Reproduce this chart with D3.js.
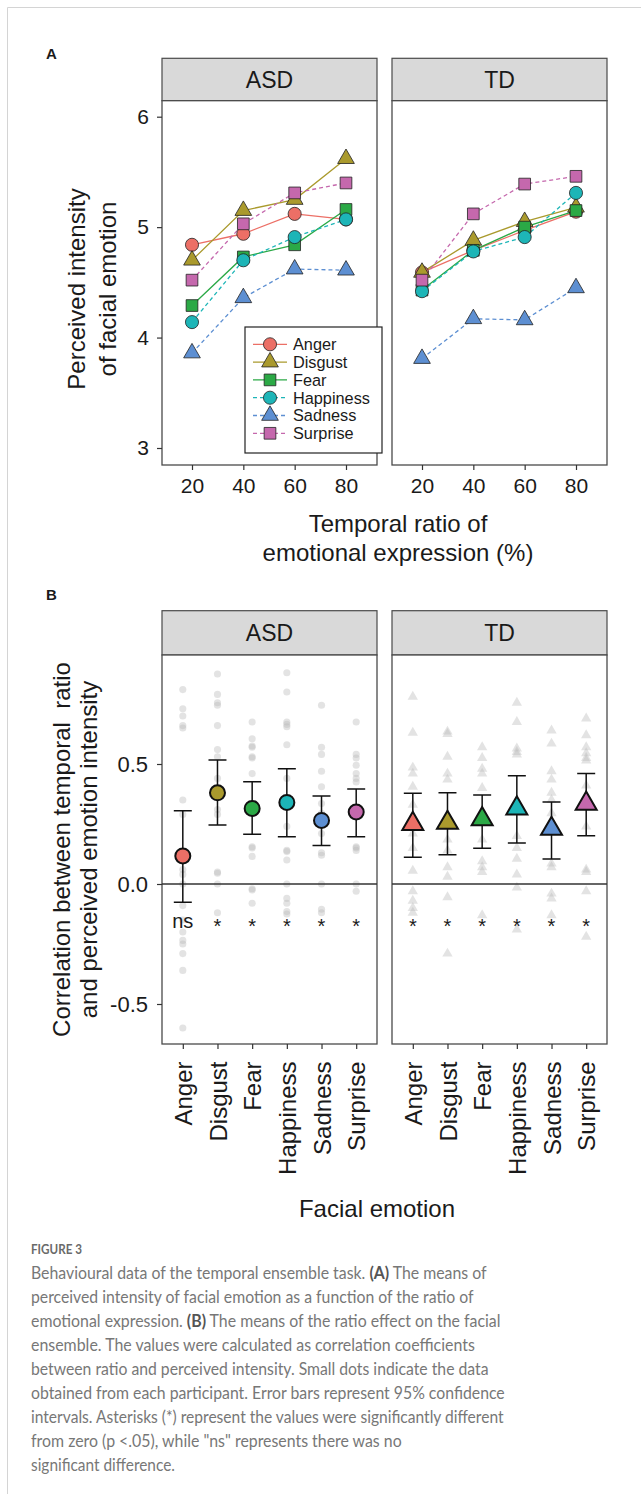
<!DOCTYPE html>
<html>
<head>
<meta charset="utf-8">
<script src="https://cdn.jsdelivr.net/npm/d3@7"></script>
<style>
body{margin:0;background:#fff;}
svg text{font-family:"Liberation Sans",Arial,sans-serif;fill:#1a1a1a;}
</style>
</head>
<body>
<script>
//declare data
var groups = ["ASD","TD"];
var emotions = ["Anger","Disgust","Fear","Happiness","Sadness","Surprise"];
var ratios = [20,40,60,80];
var ticksA = [3,4,5,6];
var ticksB = [-0.5,0,0.5];

//panel A: mean perceived intensity, one row per emotion
var intensityASD = [
  [4.84,4.94,5.12,5.07],
  [4.70,5.15,5.25,5.62],
  [4.29,4.73,4.84,5.16],
  [4.14,4.70,4.91,5.07],
  [3.86,4.36,4.62,4.61],
  [4.52,5.03,5.31,5.40]
];
var intensityTD = [
  [4.59,4.79,4.97,5.14],
  [4.59,4.88,5.05,5.18],
  [4.43,4.79,5.00,5.15],
  [4.42,4.78,4.91,5.31],
  [3.81,4.17,4.16,4.45],
  [4.52,5.12,5.39,5.46]
];

//panel B: correlation means and 95% CI
var corrASD = [0.117,0.38,0.315,0.34,0.265,0.30];
var lowASD  = [-0.076,0.246,0.207,0.197,0.16,0.197];
var highASD = [0.305,0.517,0.426,0.48,0.367,0.396];
var corrTD  = [0.25,0.255,0.27,0.315,0.23,0.335];
var lowTD   = [0.111,0.122,0.149,0.171,0.104,0.201];
var highTD  = [0.378,0.38,0.371,0.451,0.342,0.46];
var sigASD = ["ns","*","*","*","*","*"];
var sigTD  = ["*","*","*","*","*","*"];

//participant correlations
var dotsASD = [
  [0.81,0.73,0.70,0.66,0.65,0.35,0.29,0.06,0.04,0.0,-0.09,-0.15,-0.2,-0.235,-0.25,-0.29,-0.36,-0.6],
  [0.875,0.79,0.755,0.745,0.66,0.56,0.53,0.44,0.31,0.29,0.05,0.045,0.0,-0.12],
  [0.675,0.605,0.575,0.57,0.53,0.525,0.46,0.155,0.15,0.115,-0.02,-0.025,-0.08],
  [0.88,0.80,0.675,0.665,0.655,0.58,0.44,0.24,0.14,0.135,0.1,0.0,-0.06,-0.08,-0.115,-0.125],
  [0.745,0.57,0.54,0.47,0.405,0.335,0.295,0.21,0.13,0.12,0.0,-0.105,-0.12],
  [0.675,0.54,0.525,0.495,0.46,0.44,0.425,0.155,0.15,0.14,0.0,-0.03]
];
var dotsTD = [
  [0.78,0.63,0.485,0.46,0.405,0.33,0.21,0.15,0.055,-0.03,-0.07,-0.1,-0.12],
  [0.635,0.625,0.53,0.46,0.435,0.185,0.14,0.07,0.03,-0.055,-0.29],
  [0.57,0.525,0.48,0.46,0.40,0.185,0.095,0.07,0.05,-0.13],
  [0.755,0.675,0.565,0.55,0.54,0.2,0.15,0.105,0.04,-0.015,-0.19],
  [0.64,0.585,0.47,0.435,0.38,0.35,0.295,0.085,0.07,-0.04,-0.06,-0.13],
  [0.69,0.62,0.57,0.545,0.525,0.515,0.41,0.24,0.06,0.05,-0.03,-0.22]
];

var captionLines = [
  ["Behavioural data of the temporal ensemble task. ","(A)"," The means of"],
  ["perceived intensity of facial emotion as a function of the ratio of"],
  ["emotional expression. ","(B)"," The means of the ratio effect on the facial"],
  ["ensemble. The values were calculated as correlation coefficients"],
  ["between ratio and perceived intensity. Small dots indicate the data"],
  ["obtained from each participant. Error bars represent 95% confidence"],
  ["intervals. Asterisks (*) represent the values were significantly different"],
  ["from zero (p <.05), while \"ns\" represents there was no"],
  ["significant difference."]
];
var captionWidths = [456,443,470,444,458,474,473,371,144];

//styles
var colors = ["#ec6f66","#aa9a2d","#2ba946","#1db5b7","#5d8fd2","#c568ad"];
var shapes = [d3.symbolCircle,d3.symbolTriangle,d3.symbolSquare,d3.symbolCircle,d3.symbolTriangle,d3.symbolSquare];
var shapeSize = [135,121,137,135,121,137];
var dashed = [false,false,false,true,true,true];

var panelLeft = [162,392];
var panelW = 215;

//create svg
var svg = d3.select("body").append("svg")
            .attr("width",641)
            .attr("height",1494);

//figure border (top + left)
svg.append("path").attr("d","M7.5,1494V7.5H641")
   .attr("fill","none").attr("stroke","#d4d4d4");

//panel frame with strip
function frame(left, stripTop, top, bottom, name){
    svg.append("rect").attr("x",left).attr("y",stripTop)
       .attr("width",panelW).attr("height",top-stripTop)
       .attr("fill","#d9d9d9").attr("stroke","#4a4a4a").attr("stroke-width",1.2);
    svg.append("rect").attr("x",left).attr("y",top)
       .attr("width",panelW).attr("height",bottom-top)
       .attr("fill","#fff").attr("stroke","#4a4a4a").attr("stroke-width",1.3);
    svg.append("text").attr("x",left+panelW/2).attr("y",(stripTop+top)/2)
       .attr("dy","0.36em").attr("text-anchor","middle")
       .attr("font-size","23px").text(name);
}

function styleAxis(g, size){
    g.select(".domain").remove();
    g.selectAll(".tick line").attr("stroke","#333").attr("stroke-width",1.2);
    g.selectAll(".tick text").attr("font-size",size).attr("fill","#1a1a1a")
     .attr("font-family","Liberation Sans, Arial, sans-serif");
}

// ================= Panel A =================
var topA = 100.7, bottomA = 465;
var yA = d3.scaleLinear().domain([3,6]).range([448,116.7]);

svg.append("text").attr("x",46).attr("y",58.5)
   .attr("font-size","15px").attr("font-weight","bold").text("A");

for (var p=0; p<2; p++){
    var left = panelLeft[p];
    var data = p==0 ? intensityASD : intensityTD;
    frame(left, 58.3, topA, bottomA, groups[p]);

    var xA = d3.scaleLinear().domain([20,80]).range([left+30,left+184]);

    var line = d3.line()
                 .x(function(d,i){ return xA(ratios[i]); })
                 .y(function(d){ return yA(d); });

    //lines first
    data.forEach(function(row,e){
        svg.append("path")
           .attr("fill","none")
           .attr("stroke",colors[e])
           .attr("stroke-width",1.3)
           .attr("stroke-dasharray",dashed[e] ? "4,3" : null)
           .attr("d",line(row));
    });
    //then points
    data.forEach(function(row,e){
        svg.selectAll("path.pt"+p+"_"+e)
           .data(row)
           .enter().append("path")
             .attr("class","pt"+p+"_"+e)
             .attr("transform",function(d,i){ return "translate("+xA(ratios[i])+","+yA(d)+")"; })
             .attr("d",d3.symbol().type(shapes[e]).size(shapeSize[e]))
             .attr("fill",colors[e])
             .attr("stroke","#222")
             .attr("stroke-width",0.8);
    });

    var gx = svg.append("g").attr("transform","translate(0,"+bottomA+")")
                .call(d3.axisBottom(xA).tickValues(ratios).tickSize(5).tickPadding(8));
    styleAxis(gx,"21px");

    if (p==0){
        var gy = svg.append("g").attr("transform","translate("+left+",0)")
                    .call(d3.axisLeft(yA).tickValues(ticksA).tickSize(5).tickPadding(8).tickFormat(d3.format("d")));
        styleAxis(gy,"21px");
    }
}

//legend inside ASD panel
var legend = svg.append("g");
legend.append("rect").attr("x",245).attr("y",327).attr("width",137).attr("height",126)
      .attr("fill","#fff").attr("stroke","#222").attr("stroke-width",1.2);
emotions.forEach(function(name,e){
    var ly = 344.3 + e*17.8;
    legend.append("line").attr("x1",253).attr("x2",287).attr("y1",ly).attr("y2",ly)
          .attr("stroke",colors[e]).attr("stroke-width",1.3)
          .attr("stroke-dasharray",dashed[e] ? "4,3" : null);
    legend.append("path").attr("transform","translate(270,"+ly+")")
          .attr("d",d3.symbol().type(shapes[e]).size(shapeSize[e]))
          .attr("fill",colors[e]).attr("stroke","#222").attr("stroke-width",0.8);
    legend.append("text").attr("x",293).attr("y",ly).attr("dy","0.36em")
          .attr("font-size","16.3px").text(name);
});

//axis titles A
var ytA = svg.append("text").attr("transform","translate(0,289) rotate(-90)")
             .attr("text-anchor","middle").attr("font-size","24px");
ytA.append("tspan").attr("x",0).attr("y",77).attr("dy","0.35em").text("Perceived intensity");
ytA.append("tspan").attr("x",0).attr("y",108).attr("dy","0.35em").text("of facial emotion");

var xtA = svg.append("text").attr("text-anchor","middle").attr("font-size","24px");
xtA.append("tspan").attr("x",398).attr("y",524).attr("dy","0.35em").text("Temporal ratio of");
xtA.append("tspan").attr("x",398).attr("y",553).attr("dy","0.35em").text("emotional expression (%)");

// ================= Panel B =================
var topB = 655, bottomB = 1044;
var yB = d3.scaleLinear().domain([-0.5,0.5]).range([1004,764]);

svg.append("text").attr("x",46).attr("y",600)
   .attr("font-size","15px").attr("font-weight","bold").text("B");

for (var p=0; p<2; p++){
    var left = panelLeft[p];
    frame(left, 610.7, topB, bottomB, groups[p]);

    var xB = d3.scalePoint().domain(emotions).range([left,left+panelW]).padding(0.6);
    var dots = p==0 ? dotsASD : dotsTD;
    var means = p==0 ? corrASD : corrTD;
    var lows = p==0 ? lowASD : lowTD;
    var highs = p==0 ? highASD : highTD;
    var sig = p==0 ? sigASD : sigTD;
    var mShape = p==0 ? d3.symbolCircle : d3.symbolTriangle;

    //participant points
    dots.forEach(function(vals,e){
        svg.selectAll("path.dot"+p+"_"+e)
           .data(vals)
           .enter().append("path")
             .attr("class","dot"+p+"_"+e)
             .attr("transform",function(d){ return "translate("+xB(emotions[e])+","+yB(d)+")"; })
             .attr("d",d3.symbol().type(mShape).size(p==0 ? 40 : 46))
             .attr("fill","#b8b8b8")
             .attr("fill-opacity",0.4);
    });

    //zero line
    svg.append("line").attr("x1",left).attr("x2",left+panelW)
       .attr("y1",yB(0)).attr("y2",yB(0))
       .attr("stroke","#333").attr("stroke-width",1.3);

    //error bars
    emotions.forEach(function(name,e){
        var cx = xB(name);
        svg.append("path")
           .attr("d","M"+(cx-9)+","+yB(highs[e])+"H"+(cx+9)
                    +"M"+cx+","+yB(highs[e])+"V"+yB(lows[e])
                    +"M"+(cx-9)+","+yB(lows[e])+"H"+(cx+9))
           .attr("fill","none").attr("stroke","#111").attr("stroke-width",1.5);
    });

    //means
    svg.selectAll("path.mean"+p)
       .data(means)
       .enter().append("path")
         .attr("class","mean"+p)
         .attr("transform",function(d,i){ return "translate("+xB(emotions[i])+","+yB(d)+")"; })
         .attr("d",d3.symbol().type(mShape).size(p==0 ? 177 : 191))
         .attr("fill",function(d,i){ return colors[i]; })
         .attr("stroke","#111")
         .attr("stroke-width",2);

    //significance labels
    svg.selectAll("text.sig"+p)
       .data(sig)
       .enter().append("text")
         .attr("class","sig"+p)
         .attr("x",function(d,i){ return xB(emotions[i]); })
         .attr("y",yB(-0.16))
         .attr("dy",function(d){ return d=="ns" ? "0.26em" : "0.55em"; })
         .attr("text-anchor","middle")
         .attr("font-size","20px")
         .text(function(d){ return d; });

    var gx = svg.append("g").attr("transform","translate(0,"+bottomB+")")
                .call(d3.axisBottom(xB).tickSize(5).tickPadding(12));
    styleAxis(gx,"24px");
    gx.selectAll(".tick text")
      .attr("transform","rotate(-90)")
      .attr("text-anchor","end")
      .attr("x",-17.5)
      .attr("y",0)
      .attr("dy","0.36em");

    if (p==0){
        var gy = svg.append("g").attr("transform","translate("+left+",0)")
                    .call(d3.axisLeft(yB).tickValues(ticksB).tickSize(5).tickPadding(9)
                    .tickFormat(function(d){ return d3.format(".1f")(d).replace("\u2212","-"); }));
        styleAxis(gy,"22px");
    }
}

//axis titles B
var ytB = svg.append("text").attr("transform","translate(0,849.5) rotate(-90)")
             .attr("text-anchor","middle").attr("font-size","24px")
             .style("white-space","pre");
ytB.append("tspan").attr("x",0).attr("y",61.7).attr("dy","0.35em").text("Correlation between temporal  ratio");
ytB.append("tspan").attr("x",0).attr("y",88.3).attr("dy","0.35em").text("and perceived emotion intensity");

svg.append("text").attr("x",377).attr("y",1209).attr("dy","0.35em")
   .attr("text-anchor","middle").attr("font-size","24px").text("Facial emotion");

// ================= Caption =================
var figLab = svg.append("g");
var figText = figLab.append("text")
   .attr("font-size","12.5px").attr("font-weight","bold")
   .style("font-family","Lato, sans-serif").style("fill","#6a6a6a")
   .text("FIGURE 3");
figLab.attr("transform","translate(31,1253.5) scale("+(51/figText.node().getComputedTextLength())+",1)");

//each caption line is squeezed horizontally to the width seen in the figure
captionLines.forEach(function(parts,i){
    var g = svg.append("g");
    var t = g.append("text")
             .attr("font-size","17px")
             .style("font-family","Lato, sans-serif").style("fill","#777")
             .style("white-space","pre");
    parts.forEach(function(s){
        var bold = (s=="(A)" || s=="(B)");
        t.append("tspan").attr("font-weight",bold ? "bold" : null)
         .style("fill",bold ? "#555" : "#777")
         .text(s);
    });
    var k = captionWidths[i] / t.node().getComputedTextLength();
    g.attr("transform","translate(31,"+(1279+i*24)+") scale("+k+",1)");
});
</script>
</body>
</html>
